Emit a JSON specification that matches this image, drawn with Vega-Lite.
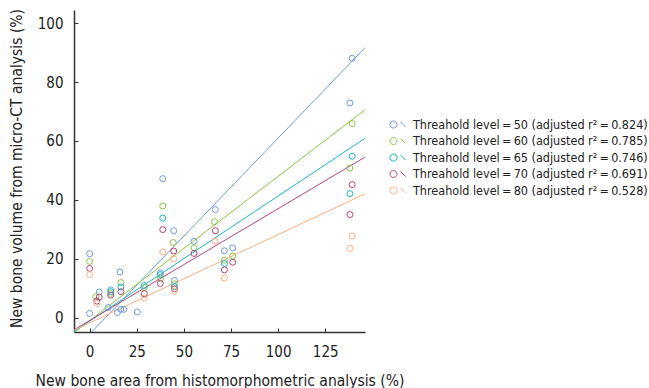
{
  "$schema": "https://vega.github.io/schema/vega-lite/v6.json",
  "width": 291,
  "height": 322,
  "autosize": {"type": "none"},
  "padding": {"left": 74, "top": 10, "right": 284, "bottom": 56},
  "config": {
    "view": {"stroke": null},
    "font": "Liberation Sans Narrow, DejaVu Sans Condensed, Roboto, sans-serif",
    "axis": {
      "grid": false,
      "domainColor": "#333333",
      "domainWidth": 1.5,
      "tickColor": "#333333",
      "tickWidth": 1,
      "tickSize": -4,
      "labelFont": "Liberation Sans Narrow, DejaVu Sans Condensed, Roboto, sans-serif",
      "labelFontSize": 15,
      "labelColor": "#222222",
      "titleFont": "Liberation Sans Narrow, DejaVu Sans Condensed, Roboto, sans-serif",
      "titleFontSize": 15.5,
      "titleFontWeight": "normal",
      "titleColor": "#222222"
    },
    "legend": {
      "labelFont": "Liberation Sans Narrow, DejaVu Sans Condensed, Roboto, sans-serif",
      "labelFontSize": 12.5,
      "labelColor": "#222222",
      "labelLimit": 0
    }
  },
  "data": {
    "values": [
      {"x": -9, "y": -11.6, "k": "50", "t": "f"},
      {"x": 147, "y": 92.3, "k": "50", "t": "f"},
      {"x": -9, "y": -5.41, "k": "60", "t": "f"},
      {"x": 147, "y": 71.03, "k": "60", "t": "f"},
      {"x": -9, "y": -5.03, "k": "65", "t": "f"},
      {"x": 147, "y": 61.28, "k": "65", "t": "f"},
      {"x": -9, "y": -4.42, "k": "70", "t": "f"},
      {"x": 147, "y": 54.86, "k": "70", "t": "f"},
      {"x": -9, "y": -4.5, "k": "80", "t": "f"},
      {"x": 147, "y": 42.3, "k": "80", "t": "f"},

      {"x": 0, "y": 21.7, "k": "50", "t": "p"},
      {"x": 0, "y": 1.4, "k": "50", "t": "p"},
      {"x": 5.1, "y": 8.7, "k": "50", "t": "p"},
      {"x": 11.2, "y": 9.4, "k": "50", "t": "p"},
      {"x": 9.8, "y": 3.4, "k": "50", "t": "p"},
      {"x": 16.1, "y": 15.5, "k": "50", "t": "p"},
      {"x": 14.7, "y": 1.7, "k": "50", "t": "p"},
      {"x": 16.5, "y": 2.8, "k": "50", "t": "p"},
      {"x": 18.2, "y": 2.8, "k": "50", "t": "p"},
      {"x": 25.3, "y": 1.9, "k": "50", "t": "p"},
      {"x": 38.8, "y": 47.2, "k": "50", "t": "p"},
      {"x": 37.5, "y": 15.2, "k": "50", "t": "p"},
      {"x": 44.6, "y": 29.5, "k": "50", "t": "p"},
      {"x": 45, "y": 12.6, "k": "50", "t": "p"},
      {"x": 55.4, "y": 25.9, "k": "50", "t": "p"},
      {"x": 66.7, "y": 36.7, "k": "50", "t": "p"},
      {"x": 71.5, "y": 22.7, "k": "50", "t": "p"},
      {"x": 75.9, "y": 23.7, "k": "50", "t": "p"},
      {"x": 139.3, "y": 88.1, "k": "50", "t": "p"},
      {"x": 138.1, "y": 72.9, "k": "50", "t": "p"},

      {"x": 0, "y": 19.1, "k": "60", "t": "p"},
      {"x": 3.2, "y": 7.1, "k": "60", "t": "p"},
      {"x": 11.2, "y": 8.2, "k": "60", "t": "p"},
      {"x": 16.6, "y": 11.9, "k": "60", "t": "p"},
      {"x": 29, "y": 10.2, "k": "60", "t": "p"},
      {"x": 38.8, "y": 37.9, "k": "60", "t": "p"},
      {"x": 37.5, "y": 13.2, "k": "60", "t": "p"},
      {"x": 44.4, "y": 25.5, "k": "60", "t": "p"},
      {"x": 45, "y": 11.5, "k": "60", "t": "p"},
      {"x": 55.4, "y": 23.7, "k": "60", "t": "p"},
      {"x": 66.2, "y": 32.6, "k": "60", "t": "p"},
      {"x": 71.5, "y": 19.5, "k": "60", "t": "p"},
      {"x": 75.9, "y": 20.9, "k": "60", "t": "p"},
      {"x": 139.3, "y": 65.9, "k": "60", "t": "p"},
      {"x": 138.1, "y": 50.8, "k": "60", "t": "p"},

      {"x": 11.2, "y": 8.8, "k": "65", "t": "p"},
      {"x": 16.6, "y": 10.4, "k": "65", "t": "p"},
      {"x": 29, "y": 10.9, "k": "65", "t": "p"},
      {"x": 38.8, "y": 33.8, "k": "65", "t": "p"},
      {"x": 37.5, "y": 14.6, "k": "65", "t": "p"},
      {"x": 45, "y": 10.5, "k": "65", "t": "p"},
      {"x": 71.5, "y": 18.4, "k": "65", "t": "p"},
      {"x": 139.3, "y": 54.8, "k": "65", "t": "p"},
      {"x": 138.1, "y": 42.1, "k": "65", "t": "p"},

      {"x": 0, "y": 16.7, "k": "70", "t": "p"},
      {"x": 5.1, "y": 7.0, "k": "70", "t": "p"},
      {"x": 3.8, "y": 5.6, "k": "70", "t": "p"},
      {"x": 11.2, "y": 7.6, "k": "70", "t": "p"},
      {"x": 16.6, "y": 8.8, "k": "70", "t": "p"},
      {"x": 29, "y": 8.1, "k": "70", "t": "p"},
      {"x": 37.5, "y": 11.6, "k": "70", "t": "p"},
      {"x": 38.8, "y": 29.9, "k": "70", "t": "p"},
      {"x": 44.6, "y": 22.6, "k": "70", "t": "p"},
      {"x": 45, "y": 9.8, "k": "70", "t": "p"},
      {"x": 55.4, "y": 21.8, "k": "70", "t": "p"},
      {"x": 66.7, "y": 29.5, "k": "70", "t": "p"},
      {"x": 71.5, "y": 16.2, "k": "70", "t": "p"},
      {"x": 75.9, "y": 18.8, "k": "70", "t": "p"},
      {"x": 139.3, "y": 45.2, "k": "70", "t": "p"},
      {"x": 138.1, "y": 35.0, "k": "70", "t": "p"},

      {"x": 0, "y": 14.6, "k": "80", "t": "p"},
      {"x": 3.8, "y": 4.8, "k": "80", "t": "p"},
      {"x": 29, "y": 6.6, "k": "80", "t": "p"},
      {"x": 38.8, "y": 22.3, "k": "80", "t": "p"},
      {"x": 44.6, "y": 20.0, "k": "80", "t": "p"},
      {"x": 45, "y": 9.0, "k": "80", "t": "p"},
      {"x": 66.5, "y": 25.9, "k": "80", "t": "p"},
      {"x": 71.5, "y": 13.5, "k": "80", "t": "p"},
      {"x": 139.3, "y": 27.7, "k": "80", "t": "p"},
      {"x": 138.1, "y": 23.5, "k": "80", "t": "p"}
    ]
  },
  "encoding": {
    "x": {
      "field": "x",
      "type": "quantitative",
      "scale": {"domain": [-8.3, 146.1], "nice": false, "zero": false},
      "axis": {
        "values": [0, 25, 50, 75, 100, 125],
        "labelPadding": 16,
        "title": "New bone area from histomorphometric analysis (%)",
        "titleX": 145.5,
        "titleY": 53,
        "titleBaseline": "alphabetic",
        "titleAlign": "center"
      }
    },
    "y": {
      "field": "y",
      "type": "quantitative",
      "scale": {"domain": [-4.9, 104.5], "nice": false, "zero": false},
      "axis": {
        "values": [0, 20, 40, 60, 80, 100],
        "labelPadding": 15,
        "title": "New bone volume from micro-CT analysis (%)",
        "titleX": -53,
        "titleY": 158,
        "titleAngle": -90,
        "titleBaseline": "alphabetic",
        "titleAlign": "center"
      }
    },
    "color": {
      "field": "k",
      "type": "nominal",
      "scale": {
        "domain": ["50", "60", "65", "70", "80"],
        "range": ["#6e9bd9", "#8cc641", "#19b6c4", "#b2457d", "#fbb07f"]
      },
      "legend": {
        "title": null,
        "orient": "none",
        "legendX": 315,
        "legendY": 106,
        "padding": 0,
        "symbolType": "M -0.06,0 A 0.44,0.44 0 1,1 -0.94,0 A 0.44,0.44 0 1,1 -0.06,0 Z M 0.375,-0.32 L 1,0.32",
        "symbolSize": 256,
        "symbolStrokeWidth": 1,
        "symbolFillColor": "transparent",
        "symbolOpacity": 1,
        "rowPadding": 1.5,
        "labelOffset": 7,
        "labelExpr": "'Threahold level\u2009=\u2009' + datum.label + ' (adjusted r²\u2009=\u2009' + (datum.label == '50' ? '0.824' : datum.label == '60' ? '0.785' : datum.label == '65' ? '0.746' : datum.label == '70' ? '0.691' : '0.528') + ')'"
      }
    }
  },
  "layer": [
    {
      "transform": [{"filter": "datum.t == 'f'"}],
      "mark": {"type": "line", "strokeWidth": 1, "clip": true}
    },
    {
      "transform": [{"filter": "datum.t == 'p'"}],
      "mark": {"type": "point", "filled": false, "size": 36, "strokeWidth": 1, "opacity": 1}
    }
  ]
}
